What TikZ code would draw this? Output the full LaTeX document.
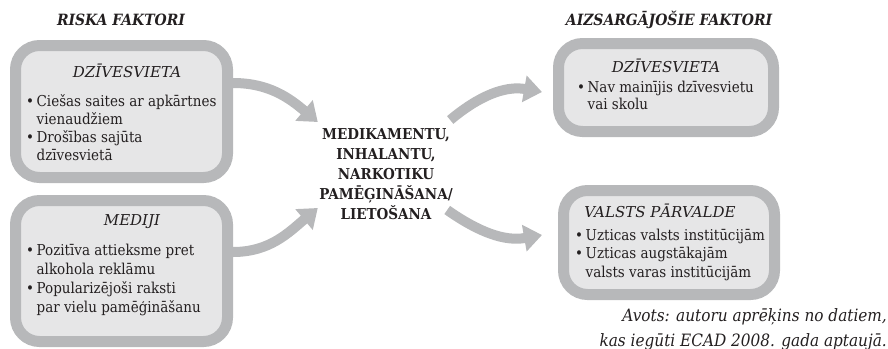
\documentclass[tikz,border=0pt]{standalone}
\usepackage{fontspec}
\setmainfont{DejaVu Serif Condensed}
\newfontfamily\widefont{DejaVu Serif}
\usetikzlibrary{arrows.meta}
\definecolor{bordergray}{HTML}{B7B8BA}
\definecolor{fillgray}{HTML}{E6E6E7}
\definecolor{textdark}{HTML}{231F20}
\tikzset{
  factor/.style={draw=bordergray, fill=fillgray, line width=11pt, rounded corners=24pt, inner sep=0pt},
  head/.style={font=\widefont\fontsize{15}{18}\selectfont\itshape, anchor=base, text=textdark, inner sep=0pt},
  items/.style={align=left, anchor=base west, text=textdark, inner sep=0pt},
  flow/.style={draw=bordergray, line width=10pt, -{Triangle[width=26pt,length=18pt]}},
  title/.style={font=\fontsize{15.5}{18}\selectfont\bfseries\itshape, anchor=base, text=textdark, inner sep=0pt},
  center/.style={font=\fontsize{15}{20}\selectfont\bfseries, align=center, text=textdark, inner sep=0pt, minimum width=136pt, minimum height=90pt},
  source/.style={font=\fontsize{17}{25}\selectfont\itshape, align=right, anchor=base east, text=textdark, inner sep=0pt}
}
\newcommand{\bul}{\textbullet\,}
\newcommand{\ind}{\hphantom{\textbullet\,}}
\begin{document}
\begin{tikzpicture}[x=1pt,y=1pt]
\useasboundingbox (0,0) rectangle (888,-348);

% titles
\node[title] (t1) at (121,-25) {RISKA FAKTORI};
\node[title] (t2) at (669,-25) {AIZSARGĀJOŠIE FAKTORI};

% boxes
\node[factor, minimum width=212pt, minimum height=132pt] (tl) at (121.5,-111.5) {};
\node[factor, minimum width=212pt, minimum height=141pt] (bl) at (121.5,-271) {};
\node[factor, minimum width=215pt, minimum height=88pt] (tr) at (666,-87.5) {};
\node[factor, minimum width=211pt, minimum height=104pt] (br) at (669,-242.5) {};

% box texts
\node[head] (tlh) at (127,-77) {DZĪVESVIETA};
\node[items, font=\fontsize{15}{18}\selectfont] (tli) at (26,-160) {\bul Ciešas saites ar apkārtnes\\\ind vienaudžiem\\\bul Drošības sajūta\\\ind dzīvesvietā};

\node[head] (blh) at (132,-225) {MEDIJI};
\node[items, font=\fontsize{15}{19}\selectfont] (bli) at (26,-312) {\bul Pozitīva attieksme pret\\\ind alkohola reklāmu\\\bul Popularizējoši raksti\\\ind par vielu pamēģināšanu};

\node[head] (trh) at (666,-72) {DZĪVESVIETA};
\node[items, font=\fontsize{15}{17}\selectfont] (tri) at (577,-109) {\bul Nav mainījis dzīvesvietu\\\ind vai skolu};

\node[head] (brh) at (660,-217) {VALSTS PĀRVALDE};
\node[items, font=\fontsize{15}{18.5}\selectfont] (bri) at (575,-277) {\bul Uzticas valsts institūcijām\\\bul Uzticas augstākajām\\\ind valsts varas institūcijām};

% center
\node[center] (mid) at (386,-174) {MEDIKAMENTU,\\INHALANTU,\\NARKOTIKU\\PAMĒĢINĀŠANA/\\LIETOŠANA};

% arrows
\draw[flow] ([yshift=28.5pt]tl.east) to[out=0,in=140] ([yshift=52pt]mid.west);
\draw[flow] ([yshift=19pt]bl.east) to[out=0,in=-140] ([yshift=-34pt]mid.west);
\draw[flow] ([xshift=-4pt,yshift=54pt]mid.east) to[out=40,in=170] ([xshift=-11pt,yshift=-4.5pt]tr.west);
\draw[flow] ([xshift=-7pt,yshift=-36pt]mid.east) to[out=-35,in=190] ([xshift=-16pt,yshift=7.5pt]br.west);

% source
\node[source] (src) at (887,-346) {Avots: autoru aprēķins no datiem,\\kas iegūti ECAD 2008. gada aptaujā.};
\end{tikzpicture}
\end{document}
